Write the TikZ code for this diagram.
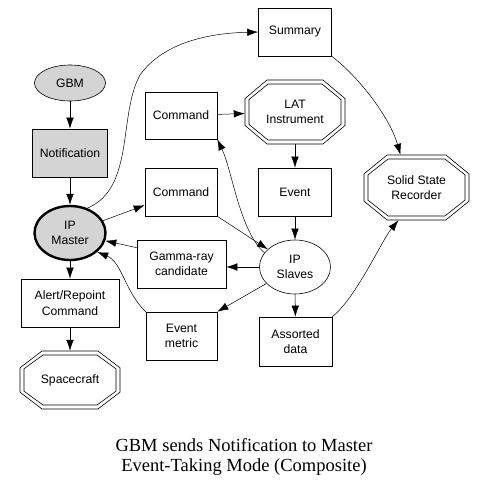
\documentclass[tikz,border=0pt]{standalone}
\usepackage{fontspec}
\setmainfont{Liberation Sans}
\newfontfamily\titlefont{Liberation Serif}
\usetikzlibrary{arrows.meta,shapes.geometric}
\newcommand{\nodefs}{\fontsize{12.2}{15.5}\selectfont}
% double octagon: name, half-width, half-height
\newcommand{\dbloct}[3]{%
  \begin{scope}[shift={(#1.center)}]
    \draw[line width=0.6pt] (-#2,{-0.42*#3}) -- (-#2,{0.42*#3}) -- ({-0.56*#2},#3) -- ({0.56*#2},#3)
      -- (#2,{0.42*#3}) -- (#2,{-0.42*#3}) -- ({0.56*#2},-#3) -- ({-0.56*#2},-#3) -- cycle;
    \draw[line width=0.6pt] ({-#2+4},{-0.42*#3+1}) -- ({-#2+4},{0.42*#3-1}) -- ({-0.56*#2+1},{#3-4}) -- ({0.56*#2-1},{#3-4})
      -- ({#2-4},{0.42*#3-1}) -- ({#2-4},{-0.42*#3+1}) -- ({0.56*#2-1},{-#3+4}) -- ({-0.56*#2+1},{-#3+4}) -- cycle;
  \end{scope}}
\begin{document}
\begin{tikzpicture}[x=1pt,y=-1pt,
  box/.style={draw,rectangle,line width=0.6pt,inner sep=0pt,align=center,font=\nodefs},
  ell/.style={draw,ellipse,line width=0.6pt,inner sep=0pt,align=center,font=\nodefs},
  oct/.style={rectangle,inner sep=0pt,align=center,font=\nodefs},
  grayfill/.style={fill=black!17},
  arr/.style={line width=0.5pt,-{Latex[length=11pt,width=7.5pt]}}
]
\fill[white] (0,0) rectangle (487,488);
\useasboundingbox (0,0) rectangle (487,488);

% nodes
\node[ell,grayfill,minimum width=71pt,minimum height=36pt] (gbm) at (70,83) {GBM};
\node[box,grayfill,minimum width=75pt,minimum height=48pt] (noti) at (70,153) {Notification};
\node[ell,grayfill,line width=2.4pt,minimum width=71pt,minimum height=54pt] (ipm) at (70,233) {IP\\Master};
\node[box,minimum width=98pt,minimum height=48pt] (alert) at (70,303) {Alert/Repoint\\Command};
\node[oct,minimum width=100pt,minimum height=58pt] (sc) at (70,380) {Spacecraft};

\node[box,minimum width=73pt,minimum height=48pt] (sum) at (295,32) {Summary};
\node[box,minimum width=72pt,minimum height=47pt] (cmda) at (181,115.5) {Command};
\node[oct,minimum width=100pt,minimum height=64pt] (lat) at (295,112) {LAT\\Instrument};
\node[box,minimum width=72pt,minimum height=48pt] (cmdb) at (181,192) {Command};
\node[box,minimum width=73pt,minimum height=48pt] (ev) at (295,192) {Event};
\node[oct,minimum width=105pt,minimum height=65pt] (ssr) at (416.5,187.5) {Solid State\\Recorder};
\node[ell,minimum width=71pt,minimum height=54pt] (sl) at (295,267) {IP\\Slaves};
\node[box,minimum width=89pt,minimum height=48pt] (gam) at (181.5,264) {Gamma-ray\\candidate};
\node[box,minimum width=71pt,minimum height=48pt] (met) at (181.5,336) {Event\\metric};
\node[box,minimum width=73pt,minimum height=49pt] (ad) at (295.5,341.5) {Assorted\\data};

\dbloct{lat}{50}{32}
\dbloct{ssr}{52.5}{32.5}
\dbloct{sc}{50}{29}

% title
\node[font=\titlefont\fontsize{18.5}{20}\selectfont,align=center] (title) at (244,457) {GBM sends Notification to Master\\Event-Taking Mode (Composite)};

% edges
\draw[arr] (gbm) -- (noti);
\draw[arr] (noti) -- (ipm);
\draw[arr] (ipm) -- (alert);
\draw[arr] (alert) -- (sc);
\draw[arr] (ipm.55) .. controls (135,188) and (118,115) .. (140,75) .. controls (165,40) and (215,33) .. (sum.west);
\draw[arr] (ipm) -- (cmdb.200);
\draw[arr] (cmda) -- (lat);
\draw[arr] (lat) -- (ev);
\draw[arr] (ev) -- (sl);
\draw[arr] (cmdb.south east) -- (sl);
\draw[arr] (sl.155) .. controls (240,232) and (232,170) .. (cmda.south east);
\draw[arr] (sl.west) -- (sl.west -| gam.east);
\draw[arr] (sl.210) -- (met.north east);
\draw[arr] (gam.160) -- (ipm);
\draw[arr] (met.north west) .. controls (125,292) and (122,262) .. (ipm.-35);
\draw[arr] (sl) -- (ad);
\draw[arr] (sum.south east) .. controls (360,78) and (390,118) .. ([xshift=-16pt]ssr.north);
\draw[arr] (ad.north east) .. controls (356,298) and (382,240) .. ([xshift=-18pt]ssr.south);
\end{tikzpicture}
\end{document}
